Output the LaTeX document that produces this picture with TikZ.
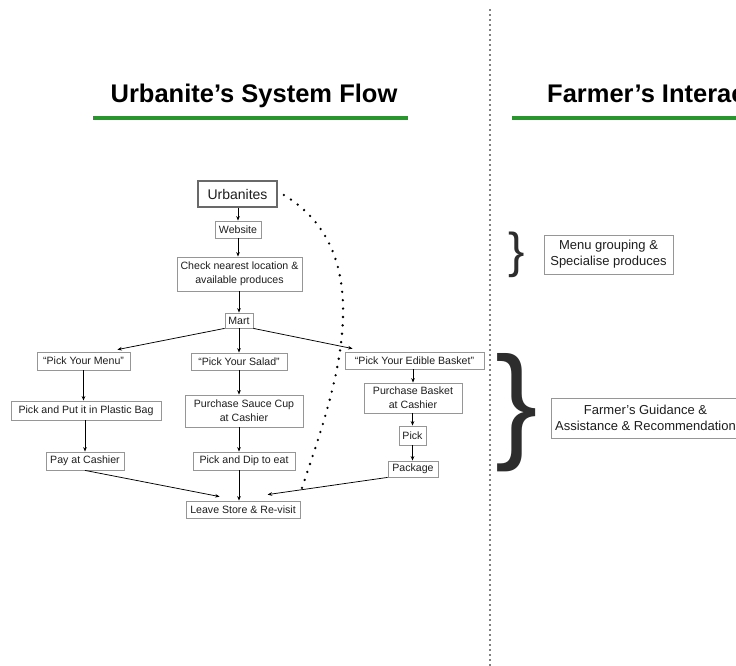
\documentclass[tikz,border=0pt]{standalone}
\usepackage{fontspec}
\setmainfont{Liberation Sans}
\usetikzlibrary{arrows.meta,calc}
\definecolor{boxgray}{RGB}{150,150,150}
\definecolor{urbgray}{RGB}{105,105,105}
\definecolor{txt}{RGB}{30,30,30}
\definecolor{ulgreen}{RGB}{40,150,45}
\definecolor{bracegray}{RGB}{45,45,45}
\begin{document}
\begin{tikzpicture}[x=1pt,y=-1pt,
  box/.style={draw=boxgray, line width=0.8pt, text=txt, inner sep=0pt, align=center,
    font=\fontsize{10.6}{14}\selectfont},
  rbox/.style={box, font=\fontsize{13}{16}\selectfont},
  arr/.style={-{Stealth[length=4.5pt,width=3.6pt]}, line width=0.75pt, black},
  title/.style={font=\fontsize{25.5}{30}\selectfont\bfseries, text=black, inner sep=0pt},
  uline/.style={ulgreen, line width=3.3pt},
  brace/.style={text=bracegray, inner sep=0pt},
  dotsep/.style={line width=1.9pt, line cap=round, dash pattern=on 0pt off 5pt},
  dotcurve/.style={line width=2.6pt, line cap=round, dash pattern=on 0pt off 8.4pt}]
\clip (0,0) rectangle (736,666);
\fill[white] (0,0) rectangle (736,666);

% titles
\node[title, anchor=base] (t1) at (254,103) {Urbanite’s System Flow};
\node[title, anchor=base west] (t2) at (547,103) {Farmer’s Interaction};
\draw[uline] (93,118) -- (408,118);
\draw[uline] (512,118) -- (740,118);

% separator
\draw[dotsep] (490,10) -- (490,670);

% left flow
\node[box, draw=urbgray, line width=1.8pt, minimum width=79pt, minimum height=26pt,
  font=\fontsize{14}{16}\selectfont] (urb) at (237.5,194) {Urbanites};
\node[box, minimum width=46pt, minimum height=17pt] (web) at (238,229.5) {Website};
\node[box, minimum width=125pt, minimum height=34pt] (check) at (239.5,274) {Check nearest location \&\\available produces};
\node[box, minimum width=28pt, minimum height=15pt] (mart) at (239,320.5) {Mart};
\node[box, minimum width=93pt, minimum height=18pt] (menu) at (83.5,361) {“Pick Your Menu”};
\node[box, minimum width=96pt, minimum height=17pt] (salad) at (239,361.5) {“Pick Your Salad”};
\node[box, minimum width=139pt, minimum height=17pt] (edible) at (414.5,360.5) {“Pick Your Edible Basket”};
\node[box, minimum width=150pt, minimum height=19pt] (bag) at (86,410.5) {Pick and Put it in Plastic Bag};
\node[box, minimum width=118pt, minimum height=32pt] (sauce) at (244,411) {Purchase Sauce Cup\\at Cashier};
\node[box, minimum width=98pt, minimum height=30pt] (basket) at (413,398) {Purchase Basket\\at Cashier};
\node[box, minimum width=27pt, minimum height=19pt] (pick) at (412.5,435.5) {Pick};
\node[box, minimum width=78pt, minimum height=18pt] (pay) at (85,461) {Pay at Cashier};
\node[box, minimum width=102pt, minimum height=18pt] (dip) at (244,461) {Pick and Dip to eat};
\node[box, minimum width=50pt, minimum height=16pt] (package) at (413,469) {Package};
\node[box, minimum width=114pt, minimum height=17pt] (leave) at (243,509.5) {Leave Store \& Re-visit};

% connector ends
\coordinate (menuIn) at ($(menu.north east)+(-13,-2)$);
\coordinate (edibleIn) at ($(edible.north west)+(8,-3)$);
\coordinate (leaveA) at ($(leave.north west)+(34,-4)$);
\coordinate (leaveB) at ($(leave.north west)+(82,-6)$);
\coordinate (cs) at ($(urb.east)+(6,1)$);
\coordinate (ce) at ($(leave.north east)+(0,-8)$);

% arrows
\draw[arr] (urb.south -| web) -- (web.north);
\draw[arr] (web.south) -- (check.north -| web);
\draw[arr] (check.south -| mart) -- (mart.north);
\draw[arr] (mart.south west) -- (menuIn);
\draw[arr] (mart.south) -- (salad.north);
\draw[arr] (mart.south east) -- (edibleIn);
\draw[arr] (menu.south) -- (menu.south |- bag.north);
\draw[arr] (bag.south -| pay) -- (pay.north);
\draw[arr] (salad.south) -- (sauce.north -| salad);
\draw[arr] (sauce.south -| salad) -- (dip.north -| salad);
\draw[arr] (dip.south -| salad) -- (leave.north -| salad);
\draw[arr] (edible.south -| basket) -- (basket.north);
\draw[arr] (basket.south -| pick) -- (pick.north);
\draw[arr] (pick.south) -- (package.north -| pick);
\draw[arr] (pay.south) -- (leaveA);
\draw[arr] (package.south west) -- (leaveB);

% dotted revisit curve
\draw[dotcurve] (cs) .. controls (388,258) and (329,406) .. (ce);

% right side
\node[brace, font=\fontsize{49}{49}\selectfont] (br1) at (516.5,255) {\}};
\node[brace, font=\fontsize{127}{127}\selectfont] (br2) at (516.5,412.5) {\}};
\node[rbox, minimum width=129pt, minimum height=39pt] (grp) at (608.5,254.5) {Menu grouping \&\\Specialise produces};
\node[rbox, minimum width=189pt, minimum height=40pt] (farm) at (645.5,418) {Farmer’s Guidance \&\\Assistance \& Recommendation};
\end{tikzpicture}
\end{document}
